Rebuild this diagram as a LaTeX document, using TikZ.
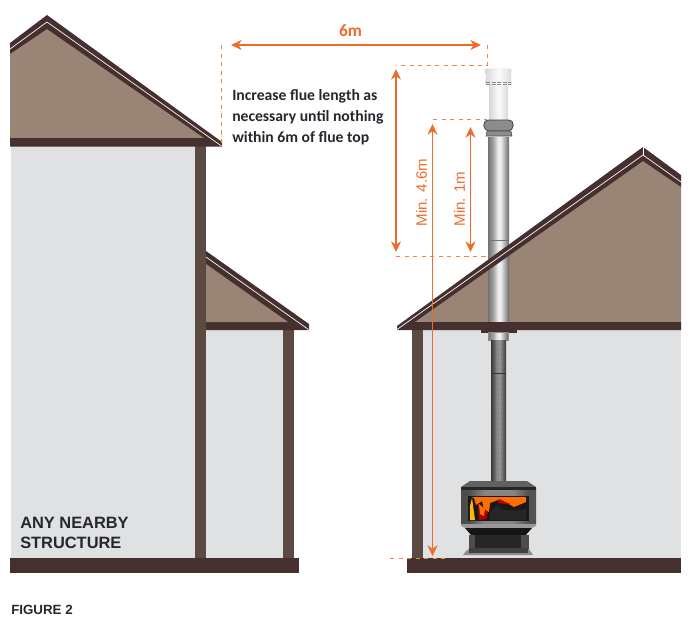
\documentclass[tikz,border=0pt]{standalone}
\usepackage{fontspec}
\setmainfont{Carlito}
\newfontfamily\grot{Liberation Sans}
\usetikzlibrary{arrows.meta}
\definecolor{roofband}{HTML}{46302F}
\definecolor{gablefill}{HTML}{9A8475}
\definecolor{postcol}{HTML}{5B4A41}
\definecolor{wallcol}{HTML}{DFE1E2}
\definecolor{dimcol}{HTML}{EE6C2B}
\definecolor{inkcol}{HTML}{26262E}
\pgfdeclarehorizontalshading{pipesteel}{100bp}{color(0bp)=(black!55);color(25bp)=(black!55);color(38bp)=(black!35);color(48bp)=(black!8);color(55bp)=(black!6);color(66bp)=(black!35);color(75bp)=(black!60);color(100bp)=(black!60)}
\pgfdeclarehorizontalshading{pipedark}{100bp}{color(0bp)=(black!78);color(25bp)=(black!78);color(45bp)=(black!45);color(55bp)=(black!42);color(75bp)=(black!78);color(100bp)=(black!78)}
\pgfdeclarehorizontalshading{pipeghost}{100bp}{color(0bp)=(black!16);color(25bp)=(black!16);color(40bp)=(black!7);color(50bp)=(black!2);color(60bp)=(black!6);color(75bp)=(black!16);color(100bp)=(black!16)}
\pgfdeclarehorizontalshading{stovesilver}{100bp}{color(0bp)=(black!70);color(30bp)=(black!70);color(40bp)=(black!48);color(60bp)=(black!48);color(70bp)=(black!68);color(100bp)=(black!68)}
\tikzset{
  wall/.style={fill=wallcol,draw=none},
  gable/.style={fill=gablefill,draw=none},
  band/.style={fill=roofband,draw=none},
  post/.style={fill=postcol,draw=none},
  roofline/.style={draw=white,line width=0.5pt},
  dim/.style={draw=dimcol,line width=1.4pt,{Stealth[length=8pt,width=7.5pt]}-{Stealth[length=8pt,width=7.5pt]}},
  guide/.style={draw=dimcol!85,line width=0.75pt,dash pattern=on 3.2pt off 3.2pt},
  dimbold/.style={text=dimcol,font=\fontsize{13}{15}\selectfont\bfseries,inner sep=0pt},
  dimlabel/.style={text=dimcol,font=\grot\fontsize{11.3}{14}\selectfont,inner sep=0pt},
  note/.style={text=inkcol,font=\fontsize{11.75}{15.7}\selectfont\bfseries,align=left,inner sep=0pt},
  heading/.style={text=inkcol,font=\grot\bfseries\fontsize{12.3}{15}\selectfont,align=left,inner sep=0pt},
  steel/.style={shading=pipesteel},
  darkpipe/.style={shading=pipedark},
  ghost/.style={shading=pipeghost},
}
\begin{document}
\begin{tikzpicture}[x=0.75pt,y=-0.75pt]
\useasboundingbox (0,0) rectangle (696,640);
% ---------- left building
\path[wall] (11,146) rectangle (195,558);
\path[wall] (206,330) rectangle (283,558);
\path[gable] (10,54) -- (47,28) -- (206,139) -- (10,139) -- cycle;
\path[post] (195,146) rectangle (206,558);
\path[post] (283,330) rectangle (294,558);
\path[band] (206,251) -- (309,324) -- (309,330) -- (206,330) -- cycle;
\path[gable] (206,264) -- (288,322) -- (206,322) -- cycle;
\path[band] (10,43) -- (47,15) -- (222,142) -- (222,146.5) -- (10,146.5) -- (10,138) -- (204,138) -- (47,29) -- (10,54) -- cycle;
\draw[roofline] (10,49) -- (47,22) -- (221.5,146);
\draw[roofline] (206,257) -- (308.5,329.5);
\path[band] (10,558) rectangle (299,573);
% ---------- right building
\path[wall] (423,330) rectangle (681,558);
\path[gable] (415,322) -- (643,160) -- (681,187) -- (681,322) -- cycle;
\path[post] (412,330) rectangle (423,558);
\path[band] (407,558) rectangle (681,573);
% flue passing behind the roof band
\path[steel] (488,137) rectangle (509,322);
\draw[black!55,line width=0.5pt] (488,240) -- (509,240);
\path[band] (397,326) -- (643,147) -- (681,175) -- (681,187) -- (643,161) -- (415,322) -- (681,322) -- (681,330) -- (397,330) -- cycle;
\draw[roofline] (397,329.5) -- (643,155) -- (681,182);
\draw[white,line width=0.4pt] (643,147) -- (643,155);
% ---------- flue
\path[fill=roofband] (481,330) rectangle (517,332.5);
\path[steel] (488,332.5) rectangle (508,340);
\draw[black!45,line width=0.3pt] (488,332.5) rectangle (508,340);
\path[darkpipe] (491,340) rectangle (506,482);
\draw[black!80,line width=0.5pt] (491,373) -- (506,373);
\foreach \yy in {344,349,...,480}{
  \foreach \xx in {493,496,499,502,505}{
    \fill[black!90,opacity=.4] (\xx-0.5,\yy) circle (0.45);
  }
}
% cowl
\path[ghost] (489,85) rectangle (508,121);
\path[ghost] (485.5,69) .. controls (491,68) and (506,68) .. (511.5,69) -- (511,80) -- (512,84) -- (507,85.5) -- (490,85.5) -- (485,84) -- (486,80) -- cycle;
\draw[black!45,line width=0.35pt,dash pattern=on 3pt off 1.2pt] (486,82) -- (511,82);
\draw[black!45,line width=0.35pt,dash pattern=on 3pt off 1.2pt] (486,84) -- (511,84);
\path[fill=black!45,draw=black!75,line width=0.6pt] (489,120) .. controls (481,120) and (483,131) .. (489,131) -- (508,131) .. controls (514,131) and (516,120) .. (508,120) -- cycle;
\path[fill=black!45,draw=black!70,line width=0.4pt] (487,131) -- (511,131) -- (512,136) -- (486,136) -- cycle;
% ---------- stove
\path[fill=black!62] (461,487) -- (470,481) -- (527,481) -- (536,487) -- (536,491) -- (461,491) -- cycle;
\path[fill=black!85] (461,487) rectangle (536,490);
\path[shading=stovesilver] (461,490) -- (536,490) -- (536,524) -- (523,530) -- (474,530) -- (461,524) -- cycle;
\path[fill=black!90] (468,496) rectangle (529,521);
% fire
\path[fill=orange!85!red] (472,497) -- (526,497) -- (526,502) -- (514,507) -- (507,503) -- (498,500) -- (490,503) -- (489,512) -- (484,510) -- (482,501) -- (476,505) -- (474,498) -- cycle;
\path[fill=orange!55!yellow] (472,498) -- (475,520) -- (470,520) -- (470,506) -- cycle;
\path[fill=red!70!black] (478,503) -- (488,512) -- (486,519) -- (479,520) -- cycle;
\path[fill=orange!85!red] (479,504) -- (485,509) -- (484,516) -- (480,514) -- cycle;
\path[fill=black!85] (490,513) -- (497,505) -- (503,510) -- (515,511) -- (526,509) -- (526,520) -- (490,520) -- cycle;
\path[fill=red!75!black] (499,499) -- (510,504) -- (505,504) -- (498,503) -- cycle;
% lower body
\path[fill=black!40] (461,524) -- (536,524) -- (536,526) -- (523,532) -- (474,532) -- (461,526) -- cycle;
\path[fill=black!92] (465,528) -- (532,528) -- (525,536) -- (472,536) -- cycle;
\path[fill=black!70] (469,535) rectangle (529,549);
\path[fill=black!85] (475,535) rectangle (521,549);
\path[fill=black!45] (469,549) -- (529,549) -- (533,555) -- (463,555) -- (466,551) -- cycle;
\path[fill=black!75] (469,548) rectangle (528,553);
% ---------- dimensions
\coordinate (sixL) at (231,45);
\coordinate (sixR) at (481,45);
\coordinate (topL) at (396,69);
\coordinate (topLb) at (396,252);
\coordinate (fourT) at (432.5,124);
\coordinate (fourB) at (432.5,556);
\coordinate (oneT) at (470.5,127);
\coordinate (oneB) at (470.5,252);
\draw[dim] (sixL) -- (sixR);
\draw[dim] (topL) -- (topLb);
\draw[dim] (fourT) -- (fourB);
\draw[dim] (oneT) -- (oneB);
\coordinate (g1) at (221.7,45);
\coordinate (g2) at (221.7,144);
\coordinate (g3) at (487.7,45);
\coordinate (g4) at (487.7,65);
\coordinate (g5) at (396,65);
\coordinate (g6) at (433,119);
\coordinate (g7) at (487,119);
\coordinate (g8) at (396,256);
\coordinate (g9) at (488,256);
\coordinate (g10) at (390,558);
\coordinate (g11) at (445,558);
\draw[guide] (g1) -- (g2);
\draw[guide] (g3) -- (g4) -- (g5);
\draw[guide] (g6) -- (g7);
\draw[guide] (g8) -- (g9);
\draw[guide] (g10) -- (g11);
% ---------- texts
\node[dimbold] (six) at (350.5,31) {6m};
\node[dimlabel,rotate=90] (minfour) at (421.5,192.5) {Min. 4.6m};
\node[dimlabel,rotate=90] (minone) at (459.5,199) {Min. 1m};
\node[note,anchor=north west] (notetext) at (232,89) {Increase flue length as\\necessary until nothing\\within 6m of flue top};
\node[heading,anchor=north west] (nearby) at (20,516.5) {ANY NEARBY\\STRUCTURE};
\node[text=inkcol,font=\grot\bfseries\fontsize{10}{12}\selectfont,inner sep=0pt,anchor=west] (figlabel) at (11,610) {FIGURE 2};
\end{tikzpicture}
\end{document}
